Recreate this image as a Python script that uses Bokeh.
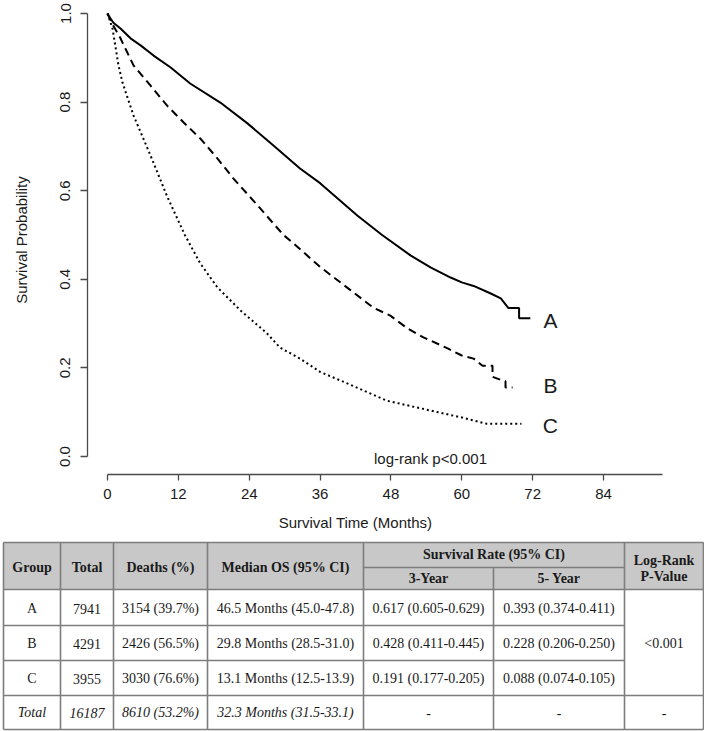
from bokeh.plotting import figure
from bokeh.models import Range1d, FixedTicker, PrintfTickFormatter, Label
from bokeh.layouts import column
from bokeh.core.properties import value
from bokeh.embed import file_html
from bokeh.resources import INLINE

# ---------------- data: Kaplan-Meier curves (months, survival probability) -------------
time_a = [0, 0.2, 1.0, 2.2, 3.9, 5.6, 7.8, 10.7, 14.0, 19.1, 23.7, 28.1, 32.6, 36.0, 42.3, 46.5,
          51.3, 54.7, 58.1, 60.0, 62.0, 64.9, 66.6, 67.9, 69.7, 69.7, 71.6]
surv_a = [1.0, 0.995, 0.979, 0.966, 0.944, 0.928, 0.905, 0.878, 0.842, 0.799, 0.752, 0.702, 0.650,
          0.617, 0.544, 0.500, 0.454, 0.427, 0.404, 0.393, 0.385, 0.368, 0.357, 0.335, 0.335, 0.312, 0.312]

time_b = [0, 0.8, 2.2, 4.4, 7.3, 10.1, 12.9, 15.7, 18.6, 21.3, 25.4, 29.8, 31.5, 36.0, 41.2, 45.0,
          47.9, 50.8, 53.5, 57.6, 60.0, 62.0, 63.5, 65.2, 65.2, 66.8, 67.4, 67.4, 68.6]
surv_b = [1.0, 0.977, 0.944, 0.883, 0.837, 0.792, 0.754, 0.718, 0.673, 0.628, 0.567, 0.500, 0.481,
          0.428, 0.375, 0.336, 0.318, 0.289, 0.269, 0.244, 0.228, 0.221, 0.205, 0.205, 0.180, 0.172,
          0.170, 0.156, 0.156]

time_c = [0, 0.5, 0.85, 1.86, 2.54, 4.4, 7.3, 10.1, 13.1, 15.7, 18.6, 22.5, 27.0, 29.2, 32.6, 36.0,
          40.6, 47.3, 54.6, 60.0, 64.2, 70.1]
surv_c = [1.0, 0.98, 0.966, 0.883, 0.844, 0.770, 0.679, 0.587, 0.500, 0.436, 0.382, 0.330, 0.278,
          0.246, 0.221, 0.191, 0.165, 0.126, 0.104, 0.088, 0.074, 0.074]

curve_names = ["A", "B", "C"]
curve_label_y = [0.307, 0.160, 0.070]
x_ticks = [0, 12, 24, 36, 48, 60, 72, 84]
y_ticks = [0.0, 0.2, 0.4, 0.6, 0.8, 1.0]
x_title = "Survival Time (Months)"
y_title = "Survival Probability"
test_text = "log-rank p<0.001"

# ---------------- data: summary table -------------
groups = ["A", "B", "C"]
totals = [7941, 4291, 3955]
deaths_n = [3154, 2426, 3030]
deaths_pct = [39.7, 56.5, 76.6]
median_os = [46.5, 29.8, 13.1]
median_lo = [45.0, 28.5, 12.5]
median_hi = [47.8, 31.0, 13.9]
surv3 = [0.617, 0.428, 0.191]
surv3_lo = [0.605, 0.411, 0.177]
surv3_hi = [0.629, 0.445, 0.205]
surv5 = [0.393, 0.228, 0.088]
surv5_lo = [0.374, 0.206, 0.074]
surv5_hi = [0.411, 0.250, 0.105]
total_n = 16187
total_deaths = 8610
total_pct = 53.2
total_median = 32.3
total_median_lo = 31.5
total_median_hi = 33.1
log_rank_p = "<0.001"

SANS = "Liberation Sans"
SERIF = "Liberation Serif"
TXT = "#1a1a1a"
AXC = "#4a4a4a"

# ---------------- KM plot -------------
p = figure(width=704, height=510, x_range=Range1d(-3.387, 95.34), y_range=Range1d(-0.04063, 1.01806),
           output_backend="svg", toolbar_location=None,
           min_border_left=87, min_border_right=34, min_border_top=5, min_border_bottom=36)
p.outline_line_color = None
p.xgrid.visible = False
p.ygrid.visible = False
p.background_fill_color = "white"

p.line(time_a, surv_a, line_width=2, line_color="black")
p.line(time_b, surv_b, line_width=2, line_color="black", line_dash="8 5")
p.line(time_c, surv_c, line_width=2, line_color="black", line_dash="2 3")

for ax in (p.xaxis[0], p.yaxis[0]):
    ax.axis_line_color = AXC
    ax.axis_line_width = 1.3
    ax.major_tick_line_color = AXC
    ax.major_tick_line_width = 1.3
    ax.minor_tick_line_color = None
    ax.major_tick_in = 0
    ax.major_label_text_font = SANS
    ax.major_label_text_font_size = "15px"
    ax.major_label_text_color = TXT

p.yaxis.bounds = (0, 1)
p.yaxis.ticker = FixedTicker(ticks=y_ticks)
p.yaxis.formatter = PrintfTickFormatter(format="%.1f")
p.yaxis.major_label_orientation = "vertical"
p.yaxis.major_tick_out = 7
p.yaxis.major_label_standoff = 10
p.yaxis.axis_label = y_title
p.yaxis.axis_label_text_font = SANS
p.yaxis.axis_label_text_font_size = "15px"
p.yaxis.axis_label_text_font_style = "normal"
p.yaxis.axis_label_text_color = TXT
p.yaxis.axis_label_standoff = 28

p.xaxis.bounds = (0, 94.0)
p.xaxis.ticker = FixedTicker(ticks=x_ticks)
p.xaxis.major_tick_out = 6
p.xaxis.major_label_standoff = 8

p.add_layout(Label(x=54.7, y=-0.005, text=test_text, text_align="center",
                   text_baseline="middle", text_font=SANS, text_font_size="15px", text_color=TXT))
for name, yy in zip(curve_names, curve_label_y):
    p.add_layout(Label(x=75.0, y=yy, text=name, text_align="center", text_baseline="middle",
                       text_font=SANS, text_font_size="21px", text_color=TXT))

# ---------------- table (with x axis title above it) -------------
t = figure(width=704, height=221, x_range=Range1d(0, 704), y_range=Range1d(731, 510),
           output_backend="svg", toolbar_location=None, min_border=0,
           x_axis_type=None, y_axis_type=None)
t.outline_line_color = None
t.xgrid.visible = False
t.ygrid.visible = False

for fig in (p, t):
    try:
        fig.frame_align = False
    except Exception:
        pass

t.text(x=[355], y=[522], text=[x_title], text_align="center", text_baseline="middle",
       text_font=value(SANS), text_font_size=value("15px"), text_color=TXT)

cx = [3, 60, 113, 207, 363, 493, 624, 703]
ry = [542, 589, 625, 660, 695, 729]
r_sub = 567

t.quad(left=[cx[0]], right=[cx[-1]], top=[ry[0]], bottom=[ry[1]], fill_color="#c8c8c8", line_color=None)

BC = "#7d7d7d"
x0s, y0s, x1s, y1s = [], [], [], []
for y in (ry[0], ry[1], ry[4], ry[5]):
    x0s.append(cx[0]); x1s.append(cx[-1]); y0s.append(y); y1s.append(y)
for y in (ry[2], ry[3]):
    x0s.append(cx[0]); x1s.append(cx[6]); y0s.append(y); y1s.append(y)
x0s.append(cx[4]); x1s.append(cx[6]); y0s.append(r_sub); y1s.append(r_sub)
for i, x in enumerate(cx):
    if i == 5:
        x0s.append(x); x1s.append(x); y0s.append(r_sub); y1s.append(ry[-1])
    else:
        x0s.append(x); x1s.append(x); y0s.append(ry[0]); y1s.append(ry[-1])
t.segment(x0=x0s, y0=y0s, x1=x1s, y1=y1s, line_color=BC, line_width=1.6)

colc = [(cx[i] + cx[i + 1]) / 2 for i in range(len(cx) - 1)]

hx = [colc[0], colc[1], colc[2], colc[3], (cx[4] + cx[6]) / 2, colc[4], colc[5], colc[6], colc[6]]
hy = [567, 567, 567, 567, 554, 578, 578, 560, 576]
ht = ["Group", "Total", "Deaths (%)", "Median OS (95% CI)", "Survival Rate (95% CI)",
      "3-Year", "5- Year", "Log-Rank", "P-Value"]
t.text(x=hx, y=hy, text=ht, text_align="center", text_baseline="middle",
       text_font=value(SERIF), text_font_size=value("14px"), text_font_style="bold", text_color=TXT)

bx, by, bt = [], [], []
row_y = [608, 643, 678]
for i in range(3):
    vals = [groups[i], str(totals[i]), f"{deaths_n[i]} ({deaths_pct[i]:.1f}%)",
            f"{median_os[i]:.1f} Months ({median_lo[i]:.1f}-{median_hi[i]:.1f})",
            f"{surv3[i]:.3f} ({surv3_lo[i]:.3f}-{surv3_hi[i]:.3f})",
            f"{surv5[i]:.3f} ({surv5_lo[i]:.3f}-{surv5_hi[i]:.3f})"]
    for j, v in enumerate(vals):
        bx.append(colc[j]); by.append(row_y[i]); bt.append(v)
bx.append(colc[6]); by.append(row_y[1]); bt.append(log_rank_p)
for j in (4, 5, 6):
    bx.append(colc[j]); by.append(712); bt.append("-")
t.text(x=bx, y=by, text=bt, text_align="center", text_baseline="middle",
       text_font=value(SERIF), text_font_size=value("14px"), text_color=TXT)

tot_vals = ["Total", str(total_n), f"{total_deaths} ({total_pct:.1f}%)",
            f"{total_median:.1f} Months ({total_median_lo:.1f}-{total_median_hi:.1f})"]
t.text(x=colc[:4], y=[712] * 4, text=tot_vals, text_align="center", text_baseline="middle",
       text_font=value(SERIF), text_font_size=value("14px"), text_font_style="italic", text_color=TXT)

layout = column(p, t, spacing=0)
open("out.html", "w").write(file_html(layout, INLINE))
